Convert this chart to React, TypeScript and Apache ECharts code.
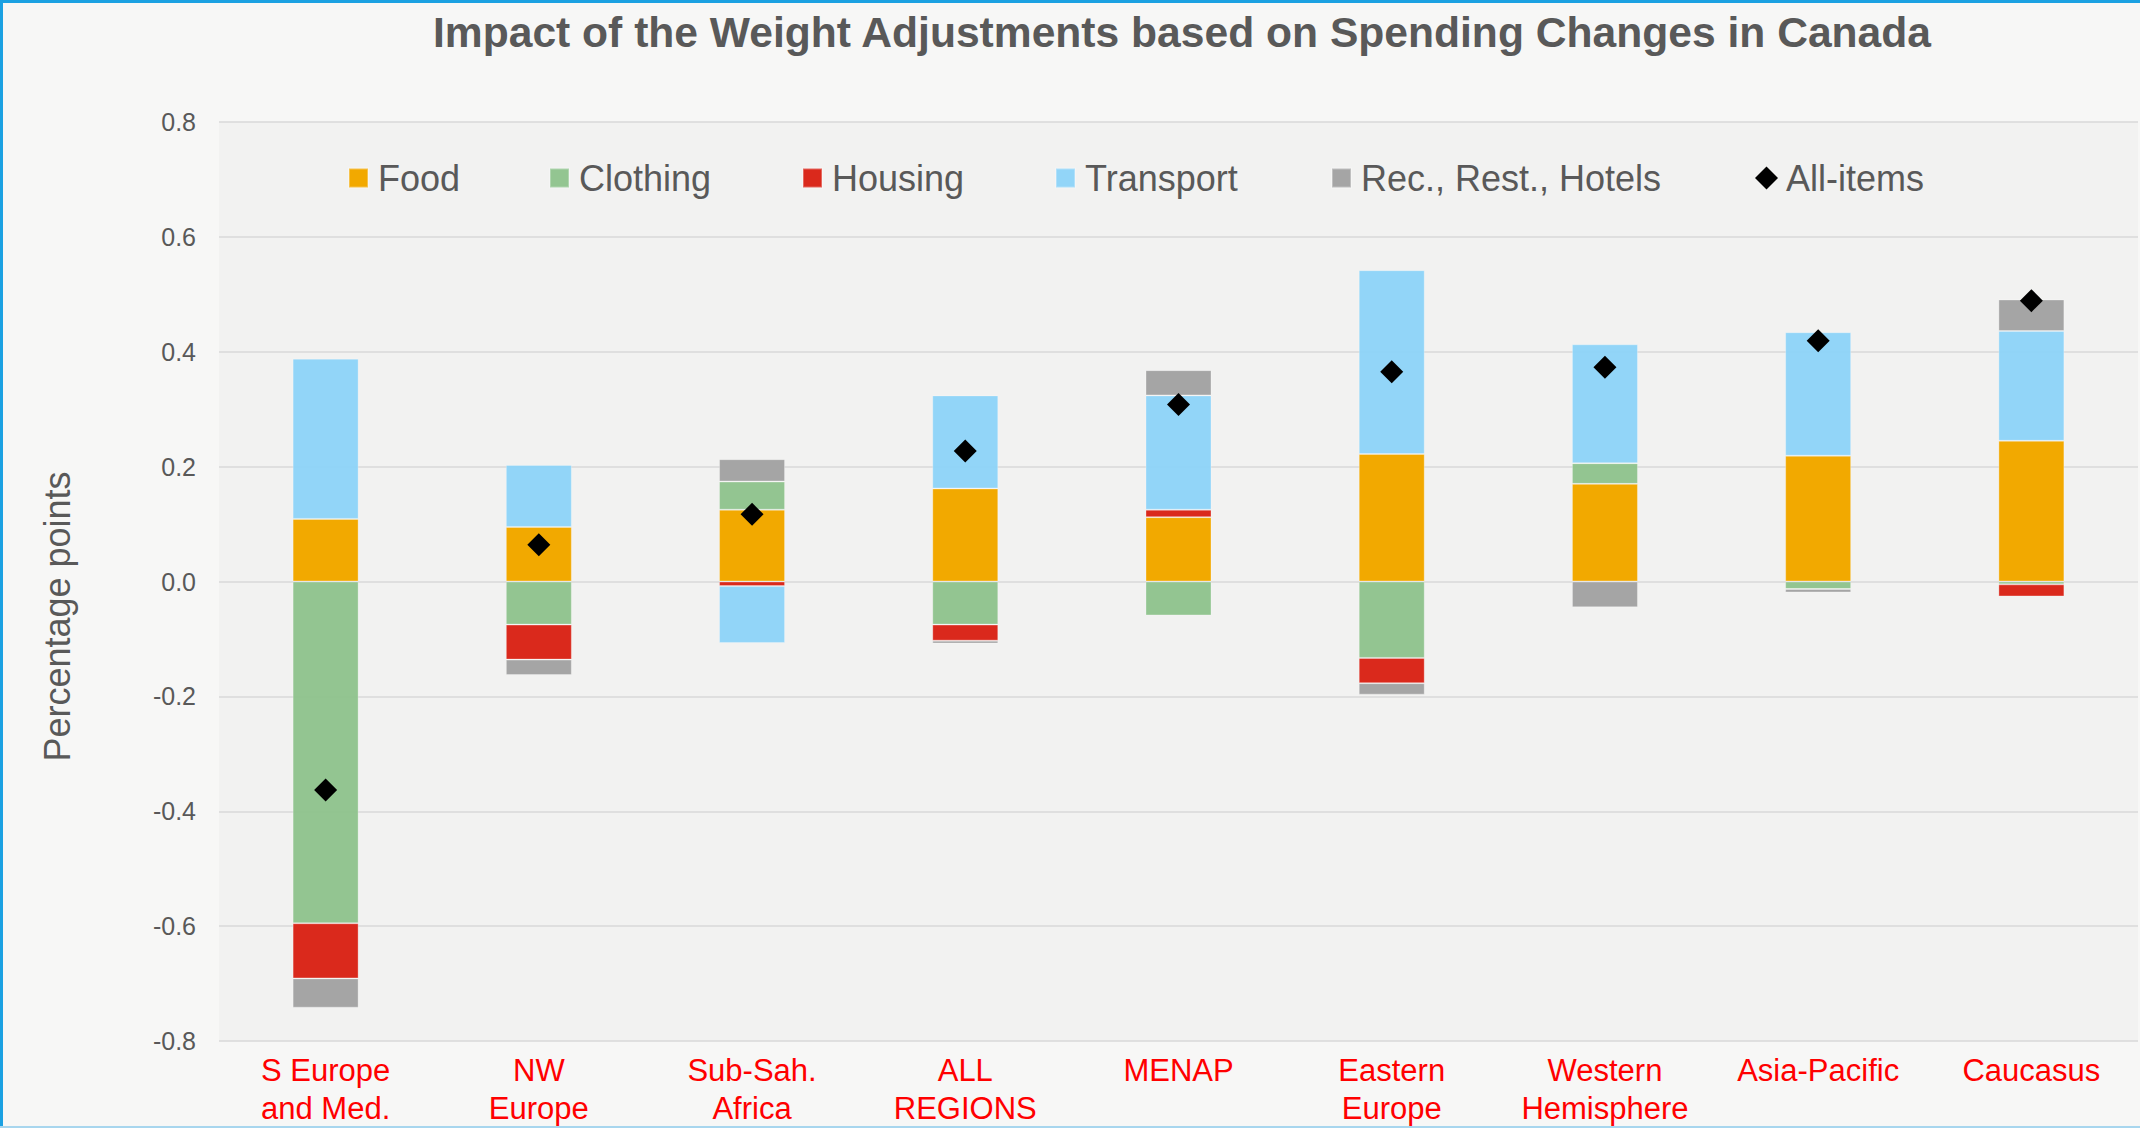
import React, { useEffect, useRef } from "react";
import * as echarts from "echarts";

const categories = [
  "S Europe\nand Med.",
  "NW\nEurope",
  "Sub-Sah.\nAfrica",
  "ALL\nREGIONS",
  "MENAP",
  "Eastern\nEurope",
  "Western\nHemisphere",
  "Asia-Pacific",
  "Caucasus",
];
const food = [0.109, 0.095, 0.125, 0.162, 0.112, 0.222, 0.17, 0.219, 0.245];
const clothing = [-0.595, -0.075, 0.049, -0.075, -0.059, -0.133, 0.036, -0.013, -0.005];
const housing = [-0.096, -0.061, -0.008, -0.028, 0.013, -0.044, 0, 0, -0.021];
const transport = [0.279, 0.108, -0.099, 0.162, 0.199, 0.32, 0.207, 0.215, 0.191];
const rec = [-0.051, -0.027, 0.039, -0.005, 0.044, -0.02, -0.045, -0.006, 0.055];
const allItems = [-0.363, 0.064, 0.117, 0.227, 0.308, 0.365, 0.373, 0.419, 0.489];
const yTicks = [-0.8, -0.6, -0.4, -0.2, 0.0, 0.2, 0.4, 0.6, 0.8];

const FONT = "'Liberation Sans', Arial, sans-serif";
const GREY_TEXT = "#595959";

const barSeries = [
  { name: "Food", data: food, color: "#F2A900", opacity: 1 },
  { name: "Clothing", data: clothing, color: "#8BC189", opacity: 0.92 },
  { name: "Housing", data: housing, color: "#DA291C", opacity: 1 },
  { name: "Transport", data: transport, color: "#8AD3F8", opacity: 0.92 },
  { name: "Rec., Rest., Hotels", data: rec, color: "#A5A5A5", opacity: 1 },
];

const legendLefts = [348, 549, 802, 1055, 1331, 1755];

export default function App() {
  const ref = useRef<HTMLDivElement>(null);

  useEffect(() => {
    document.body.style.margin = "0";
    if (!ref.current) return;
    const chart = echarts.init(ref.current, undefined, { renderer: "svg" });

    const legendNames = [...barSeries.map((s) => s.name), "All-items"];
    const legends = legendNames.map((name, i) => ({
      show: true,
      left: legendLefts[i],
      top: 160,
      padding: 0,
      itemWidth: i === 5 ? 23 : 19,
      itemHeight: i === 5 ? 23 : 19,
      data: [
        i === 5
          ? { name, icon: "diamond", itemStyle: { color: "#000000", opacity: 1 } }
          : { name, icon: "rect" },
      ],
      textStyle: {
        fontFamily: FONT,
        fontSize: 36,
        color: GREY_TEXT,
        padding: [0, 0, 0, i === 5 ? 3 : 5],
      },
      selectedMode: false,
    }));

    const option: any = {
      animation: false,
      backgroundColor: "#F7F7F6",
      title: {
        text: "Impact of the Weight Adjustments based on Spending Changes in Canada",
        left: 1177,
        top: 5,
        textAlign: "center",
        textStyle: {
          fontFamily: FONT,
          fontSize: 42.6,
          fontWeight: "bold",
          color: GREY_TEXT,
        },
      },
      legend: legends,
      grid: {
        left: 219,
        right: 2,
        top: 122,
        bottom: 87,
        show: true,
        backgroundColor: "#F2F2F1",
        borderWidth: 0,
      },
      xAxis: {
        type: "category",
        data: categories,
        axisLine: { show: false },
        axisTick: { show: false },
        axisLabel: {
          color: "#FF0000",
          fontFamily: FONT,
          fontSize: 31,
          lineHeight: 38,
          margin: 10,
          interval: 0,
        },
      },
      yAxis: {
        type: "value",
        min: yTicks[0],
        max: yTicks[yTicks.length - 1],
        interval: 0.2,
        name: "Percentage points",
        nameLocation: "middle",
        nameGap: 144,
        nameTextStyle: {
          fontFamily: FONT,
          fontSize: 36,
          color: GREY_TEXT,
          padding: [0, 70, 0, 0],
        },
        axisLine: { show: false },
        axisTick: { show: false },
        splitLine: { lineStyle: { color: "#D9D9D9", width: 1.5 } },
        axisLabel: {
          color: GREY_TEXT,
          fontFamily: FONT,
          fontSize: 25,
          margin: 23,
          formatter: (v: number) => v.toFixed(1),
        },
      },
      series: [
        ...barSeries.map((s) => ({
          name: s.name,
          type: "bar",
          stack: "total",
          barWidth: 66,
          data: s.data,
          itemStyle: {
            color: s.color,
            opacity: s.opacity,
            borderColor: "rgba(255,255,255,0.3)",
            borderWidth: 1,
          },
        })),
        {
          name: "All-items",
          type: "scatter",
          symbol: "diamond",
          symbolSize: 23,
          data: allItems,
          itemStyle: { color: "#000000", opacity: 1 },
          z: 10,
        },
      ],
      graphic: [
        {
          type: "polyline",
          shape: { points: [[1.5, 1128], [1.5, 1.5], [2140, 1.5]] },
          style: { stroke: "#1BA1E2", lineWidth: 3, fill: "none" },
          silent: true,
        },
        {
          type: "line",
          shape: { x1: 0, y1: 1127, x2: 2140, y2: 1127 },
          style: { stroke: "#A8D6EE", lineWidth: 2 },
          silent: true,
        },
      ],
    };

    chart.setOption(option);
    return () => chart.dispose();
  }, []);

  return (
    <div
      ref={ref}
      style={{ position: "absolute", left: 0, top: 0, width: 2140, height: 1128 }}
    />
  );
}
